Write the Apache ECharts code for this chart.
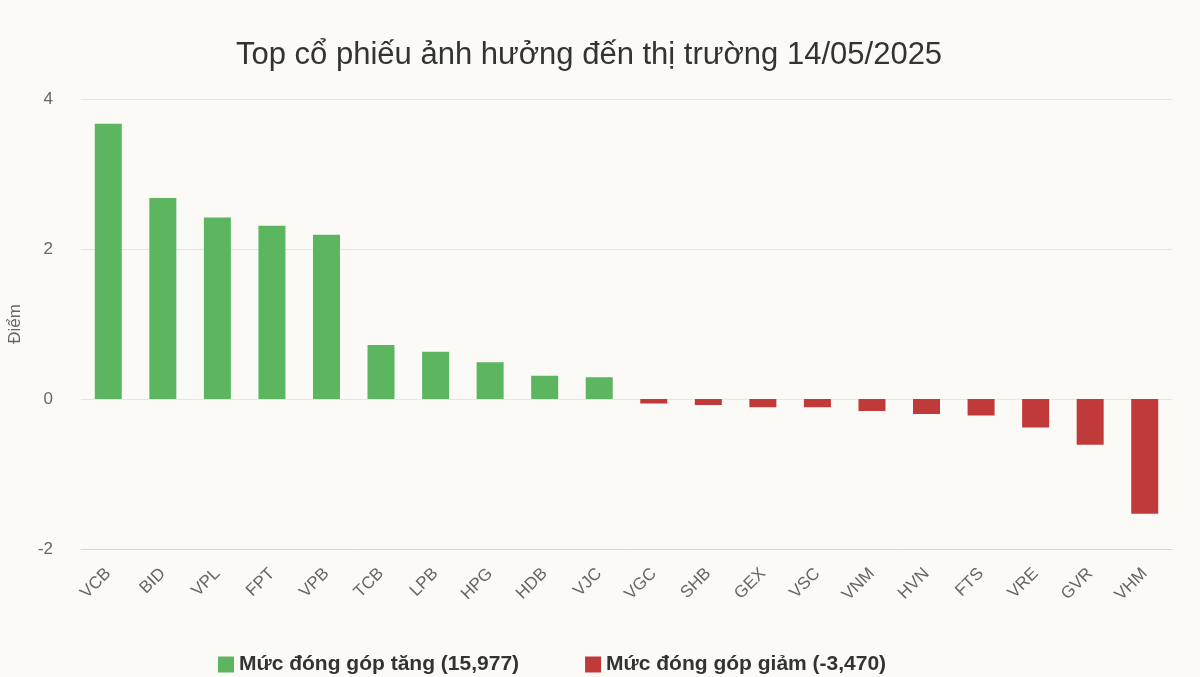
<!DOCTYPE html>
<html><head><meta charset="utf-8">
<script src="https://cdn.jsdelivr.net/npm/echarts@6/dist/echarts.min.js"></script>
<style>html,body{margin:0;padding:0;background:#fbfaf7}#c{width:1200px;height:677px}</style>
</head><body><div id="c"></div>
<script>
const categories = ['VCB','BID','VPL','FPT','VPB','TCB','LPB','HPG','HDB','VJC','VGC','SHB','GEX','VSC','VNM','HVN','FTS','VRE','GVR','VHM'];
const gainValues = [3.67,2.68,2.42,2.31,2.19,0.72,0.63,0.49,0.31,0.29,null,null,null,null,null,null,null,null,null,null];
const lossValues = [null,null,null,null,null,null,null,null,null,null,-0.06,-0.08,-0.11,-0.11,-0.16,-0.20,-0.22,-0.38,-0.61,-1.53];
const gainName = 'Mức đóng góp tăng (15,977)';
const lossName = 'Mức đóng góp giảm (-3,470)';
const titleText = 'Top cổ phiếu ảnh hưởng đến thị trường 14/05/2025';
const yTicks = {min: -2, max: 4, interval: 2};

const chart = echarts.init(document.getElementById('c'));
chart.setOption({
  backgroundColor: '#fbfaf7',
  animation: false,
  textStyle: {fontFamily: 'Liberation Sans, Arial, sans-serif'},
  title: {
    text: titleText, left: 231, top: 35,
    textStyle: {fontSize: 31, fontWeight: 'normal', color: '#333333', fontFamily: 'Liberation Sans, Arial, sans-serif'}
  },
  legend: {
    bottom: -3, left: 213, itemGap: 66, itemWidth: 16, itemHeight: 16, icon: 'rect',
    textStyle: {fontSize: 21, fontWeight: 'bold', color: '#333333'},
    data: [gainName, lossName]
  },
  grid: {left: 81, right: 28, top: 99, bottom: 128, outerBoundsMode: 'none', containLabel: false},
  xAxis: {
    type: 'category', data: categories,
    axisLine: {onZero: false, lineStyle: {color: '#ccd6eb'}},
    axisTick: {show: false},
    axisLabel: {rotate: 45, fontSize: 17, color: '#666666', margin: 22}
  },
  yAxis: {
    type: 'value', min: yTicks.min, max: yTicks.max, interval: yTicks.interval,
    name: 'Điểm', nameLocation: 'middle', nameGap: 57, nameRotate: 90,
    nameTextStyle: {fontSize: 17, color: '#666666'},
    axisLabel: {fontSize: 17, color: '#666666', margin: 28},
    splitLine: {lineStyle: {color: '#e6e6e6'}},
    axisLine: {show: false}, axisTick: {show: false}
  },
  series: [
    {name: gainName, type: 'bar', stack: 's', data: gainValues, barWidth: 27,
     itemStyle: {color: '#5cb65f'}},
    {name: lossName, type: 'bar', stack: 's', data: lossValues, barWidth: 27,
     itemStyle: {color: '#bf3a38'}}
  ]
});
</script></body></html>
